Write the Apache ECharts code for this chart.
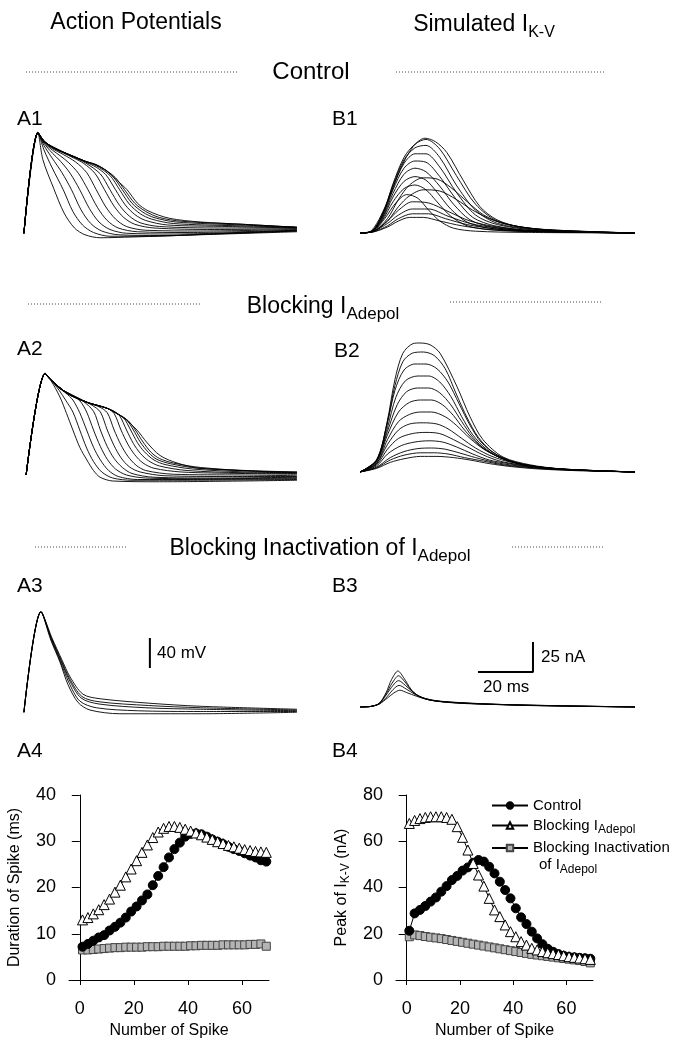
<!DOCTYPE html>
<html><head><meta charset="utf-8">
<script src="https://cdn.jsdelivr.net/npm/echarts@6/dist/echarts.min.js"></script>
<style>html,body{margin:0;padding:0;background:#fff}#c{width:677px;height:1040px}</style>
</head><body><div id="c"></div>
<script>
// ---------- A4 / B4 data ----------
const spikeNumbers = [1,3,5,7,9,11,13,15,17,19,21,23,25,27,29,31,33,35,37,39,41,43,45,47,49,51,53,55,57,59,61,63,65,67,69];
const durControl = [7.2,7.8,8.5,9.2,9.7,10.7,11.5,12.4,13.5,14.8,15.9,17.2,18.5,20.5,22.5,24.4,26.5,28.3,29.7,31.0,31.6,31.7,31.5,31.0,30.4,29.9,29.4,28.8,28.3,27.9,27.4,26.9,26.5,25.9,25.6];
const durBlockAdepol = [13.0,13.5,14.3,15.2,16.3,17.5,19.0,20.5,22.3,24.0,25.8,27.6,29.2,30.8,32.0,32.8,33.2,33.2,33.0,32.6,32.2,31.8,31.4,30.9,30.4,29.9,29.5,29.1,28.8,28.5,28.2,28.0,27.8,27.7,27.6];
const durBlockInact = [6.5,6.5,6.6,6.7,6.8,6.9,7.0,7.0,7.1,7.1,7.1,7.1,7.2,7.2,7.2,7.3,7.3,7.3,7.3,7.3,7.4,7.4,7.5,7.5,7.5,7.5,7.6,7.6,7.6,7.6,7.6,7.7,7.7,7.8,7.3];
const peakControl = [21.3,28.8,30.3,32,33.9,35.7,38.2,40.6,43.2,45,47.3,48.7,50.7,51.9,51.2,49,46.1,42.5,38.9,35.3,31,27.1,24.2,20.9,18,15.5,13.5,12.2,11.2,10.5,10,9.8,9.6,9.4,9.2];
const peakBlockAdepol = [67.7,69,69.8,70.3,70.6,70.6,70.6,70.3,69.5,66.3,61.7,56.2,50.4,45.4,40.6,35.3,30.3,27.4,23.8,20.9,18.7,16.6,15.1,13.7,13,12.3,11.8,11.4,11,10.5,10.1,9.8,9.5,9.2,8.9];
const peakBlockInact = [18.7,19.5,19.2,18.8,18.5,18.2,17.9,17.5,17.1,16.7,16.3,15.9,15.5,15.1,14.7,14.3,13.9,13.5,13.1,12.7,12.3,11.9,11.5,11.1,10.8,10.5,10.2,9.9,9.6,9.3,9.0,8.7,8.4,8.0,7.4];
const spikeTicks = [0,20,40,60];

// ---------- trace data: [time ms, mV] ----------
const tracesA1 = [
 [[0.7,-81],[5.8,53],[7.6,17],[11.5,-21],[15.3,-54],[19.1,-74],[22.9,-83],[28.4,-87],[40,-86],[65,-83],[100,-79]],
 [[0.7,-81],[5.8,53],[8,30],[11,6],[15,-23],[18.5,-52],[22,-70],[26,-80],[32,-85],[45,-85],[70,-82],[100,-78]],
 [[0.7,-81],[5.8,53],[8,36],[11,19],[14.5,0],[18,-23],[21.5,-50],[25,-68],[29,-78],[35,-83],[50,-84],[75,-81],[100,-78]],
 [[0.7,-81],[5.8,53],[8,39],[11,26],[14,15],[17.5,-1],[21,-23],[24.5,-48],[28,-66],[32,-76],[38,-81],[55,-82],[100,-77]],
 [[0.7,-81],[5.8,53],[8,40],[11,30],[14,22],[17,13],[20.5,-1],[24,-23],[27.5,-47],[31,-64],[35,-74],[42,-79],[60,-80],[100,-77]],
 [[0.7,-81],[5.8,53],[8,41],[11,32],[15,24],[19.5,14],[23.5,0],[27,-23],[30.5,-46],[34,-62],[38,-72],[45,-77],[65,-78],[100,-76]],
 [[0.7,-81],[5.8,53],[8,42],[11,33],[15,26],[19,19],[22.5,12],[26.5,-1],[30,-23],[33.5,-45],[37,-60],[41,-69],[48,-74],[70,-76],[100,-75]],
 [[0.7,-81],[5.8,53],[8,42],[11,34],[15,27],[19,20],[23,13],[28.5,-2],[32,-23],[35.5,-44],[39,-58],[43,-67],[50,-72],[72,-74],[100,-74]],
 [[0.7,-81],[5.8,53],[8,42],[11,34],[15,27],[19,21],[23,14],[27,7],[30.5,-3],[34,-23],[37.5,-43],[41,-56],[45,-64],[53,-70],[75,-72],[100,-74]],
 [[0.7,-81],[5.8,53],[8,42],[11,34],[15,27],[19,21],[23,15],[27,9],[32,-4],[35.5,-23],[39,-42],[43,-55],[47,-62],[55,-68],[78,-71],[100,-73]],
 [[0.7,-81],[5.8,53],[8,42],[11,34],[15,27],[19,21],[23,15],[27,10],[30,4],[33,-5],[36.5,-23],[40,-41],[44,-53],[48,-60],[56,-66],[80,-70],[100,-73]],
 [[0.7,-81],[5.8,53],[8,42],[11,34],[15,27],[19,21],[23,15],[27,10],[30.5,3],[34,-7],[37.3,-23],[41,-41],[45,-52],[50,-60],[58,-65],[80,-69],[100,-73]],
 [[0.7,-81],[5.8,54],[7.6,42],[11.5,34],[15.3,27],[19.1,21],[22.9,15],[26.7,11],[30.5,3],[34.4,-10],[38.2,-23],[42,-41],[45.8,-51],[53.5,-61],[64.9,-66],[80.2,-69],[99.3,-73]]
];
const tracesA2 = [
 [[1.5,-82],[8.4,53],[10.5,44],[13.8,22],[16.2,0],[18.5,-22],[21,-45],[23.6,-62],[26,-76],[28.4,-85],[33,-90],[50,-91],[100,-89]],
 [[1.5,-82],[8.4,53],[10.5,45],[13.5,31],[16,17],[18.5,2],[21,-22],[23.5,-46],[26,-64],[29,-78],[33,-86],[40,-89],[60,-89],[100,-88]],
 [[1.5,-82],[8.4,53],[10.5,45],[13.5,34],[16,27],[18.5,18],[21,1],[23.5,-22],[26,-45],[28.5,-62],[31.5,-76],[35,-84],[42,-88],[60,-88],[100,-87]],
 [[1.5,-82],[8.4,53],[10.5,45],[13.5,34],[17,27],[21,17],[23.5,2],[26,-22],[28.5,-44],[31,-61],[34,-74],[38,-82],[45,-86],[65,-87],[100,-86]],
 [[1.5,-82],[8.4,53],[10.5,45],[14,33],[18,25],[22,17],[26,3],[28.5,-22],[31,-44],[33.5,-60],[36.5,-72],[40,-80],[48,-85],[70,-86],[100,-85]],
 [[1.5,-82],[8.4,53],[10.5,45],[14,33],[18,25],[22,18],[25.5,11],[28.5,2],[31,-22],[33.5,-43],[36,-59],[39,-71],[43,-78],[52,-83],[75,-84],[100,-84]],
 [[1.5,-82],[8.4,53],[10.5,45],[16.4,27],[20,20],[24,14],[28,9],[31,1],[33.5,-22],[36,-42],[38.5,-57],[41.5,-69],[45,-76],[55,-81],[80,-82],[100,-83]],
 [[1.5,-82],[8.4,53],[10.5,45],[16.4,27],[23.6,15],[28,10],[31,7],[33.5,0],[36,-22],[38.5,-41],[41,-55],[44,-66],[48,-73],[58,-78],[80,-80],[100,-81]],
 [[1.5,-82],[8.4,53],[10.5,45],[16.4,27],[23.6,15],[30,8],[33,4],[35.5,-3],[38,-22],[40.5,-40],[43,-53],[46,-63],[50,-70],[60,-76],[80,-79],[100,-80]],
 [[1.5,-82],[8.4,53],[10.5,45],[16.4,27],[23.6,15],[30.9,7],[34.5,0],[37,-6],[39.5,-22],[42,-39],[44.5,-51],[48,-62],[52,-68],[62,-74],[82,-78],[100,-79]],
 [[1.5,-82],[8.4,53],[10.5,45],[16.4,27],[23.6,15],[30.9,7],[35.5,-2],[38,-8],[40.5,-22],[43,-38],[46,-52],[49,-61],[54,-67],[64,-73],[85,-77],[100,-79]],
 [[1.5,-82],[8.4,53],[10.5,45],[16.4,27],[23.6,15],[30.9,7],[36.2,-4],[38.7,-10],[41.2,-22],[44,-38],[47,-52],[50,-60],[55,-66],[65,-72],[85,-77],[100,-78]],
 [[1.5,-82],[8.4,54],[10.2,45],[16.4,27],[23.6,15],[30.9,7],[36.7,-5],[41.8,-22],[45.5,-39],[50.2,-56],[56.4,-66],[64.7,-73],[100,-78]]
];
const tracesA3 = [
 [[0.7,-81],[6.9,53],[10.9,18],[14.5,-11],[17.5,-34],[22.2,-57],[28.4,-63],[46.5,-69],[64.7,-73],[100,-77]],
 [[0.7,-81],[6.9,53],[10.8,17],[14.3,-12],[17.3,-36],[21.8,-60],[28,-67],[46,-72],[65,-75],[100,-78]],
 [[0.7,-81],[6.9,53],[10.7,17],[14.2,-13],[17.2,-38],[21.5,-62],[28,-70],[45,-75],[65,-77],[100,-79]],
 [[0.7,-81],[6.9,53],[10.6,16],[14,-14],[17,-41],[21,-66],[27,-75],[42,-79],[65,-80],[100,-80]],
 [[0.7,-81],[6.9,53],[10.5,15],[13.8,-14],[16.7,-44],[20.4,-68],[24.7,-78],[35.6,-83],[64.7,-83],[100,-81]]
];
// ---------- trace data: [time ms, nA] ----------
const tracesB1 = [
 [[0,0],[5,1],[10,5],[14,10],[18,13],[23,13],[29,10],[37,6],[47,3],[60,1.5],[100,0]],
 [[0,0],[5,1],[10,6],[14,12],[19,16],[25,16],[31,12],[39,7],[49,3.5],[62,1.5],[100,0]],
 [[0,0],[5,1.5],[10,8],[14,15],[19,20],[25,20],[32,14],[40,8],[50,4],[63,1.5],[100,0]],
 [[0,0],[5,1.5],[10,10],[14,19],[19,26],[25,25],[32,18],[40,10],[50,5],[63,2],[100,0]],
 [[0,0],[5,2],[9,12],[13,25],[17,32],[21,29],[25,19],[29,10],[34,4],[42,1.5],[60,0.5],[100,0]],
 [[0,0],[5,1.5],[10,10],[14,22],[18,31],[23,36],[29,35],[35,28],[41,19],[48,11],[56,6],[68,2.5],[100,0]],
 [[0,0],[4,1],[8,10],[12,26],[16,37],[20,40],[24,36],[28,26],[33,14],[39,6],[48,2.5],[65,1],[100,0]],
 [[0,0],[5,1.5],[10,12],[14,28],[18,40],[23,46],[28,45],[33,38],[39,26],[45,15],[52,8],[62,4],[75,1.5],[100,0]],
 [[0,0],[4,1],[8,11],[12,30],[16,43],[20,47],[24,44],[28,34],[33,20],[39,9],[47,4],[60,1.5],[100,0]],
 [[0,0],[4,1],[8,12],[12,33],[16,49],[20,54],[24,51],[29,39],[34,24],[40,11],[48,5],[62,2],[100,0]],
 [[0,0],[4,1],[8,13],[12,36],[16,54],[20,60],[24,59],[29,47],[35,28],[41,13],[49,6],[63,2],[100,0]],
 [[0,0],[4,1],[8,14],[12,38],[16,58],[20,66],[24,66],[29,55],[35,34],[42,15],[50,7],[64,2.5],[100,0]],
 [[0,0],[4,1],[8,15],[12,40],[16,61],[20,71],[24,73],[29,63],[35,40],[42,19],[50,8],[64,3],[100,0]],
 [[0,0],[4,1],[8.5,17],[12,41],[16,63],[20,74],[24,78],[29,70],[35,48],[42,24],[50,10],[64,3.5],[100,0]],
 [[0,0],[3.6,1],[9.8,25],[14.5,52.5],[19.3,72],[23.6,79],[27.5,76],[31.6,67],[37.5,44],[43.6,22],[49.8,11],[58.2,5],[70,2.5],[100,0]]
];
const tracesB2 = [
 [[0,0],[6,3],[11,8],[16,11],[22,13],[28,13],[34,12],[40,10],[47,7],[55,4.5],[65,2.5],[80,1],[100,0]],
 [[0,0],[6,3.5],[11,10],[16,14],[22,16],[27,16],[32,15],[38,12],[45,9],[52,6],[60,4],[72,2],[100,0]],
 [[0,0],[6,4],[11,12],[16,17],[21,19.5],[26,20],[31,19],[36,16],[42,12],[49,8],[56,5.5],[66,3],[80,1.5],[100,0]],
 [[0,0],[6,5],[10,15],[15,22],[20,25],[25,26],[30,25],[35,21],[41,15],[47,10],[54,7],[63,4],[75,2],[100,0]],
 [[0,0],[6,6],[10,19],[14,28],[19,32],[24,33],[29,32],[34,27],[39,21],[45,14],[51,9],[58,6],[68,3],[82,1.5],[100,0]],
 [[0,0],[6,7],[10,23],[14,35],[18,40],[23,41],[28,40],[32,36],[37,28],[42,20],[48,13],[55,8],[64,4.5],[76,2],[100,0]],
 [[0,0],[6,7],[10,27],[14,42],[18,48],[22,50],[26,50],[31,46],[35,39],[40,28],[45,19],[51,12],[58,7],[68,3.5],[82,1.5],[100,0]],
 [[0,0],[6,8],[10,31],[14,50],[18,58],[22,60],[26,60],[30,56],[34,47],[38,35],[43,23],[49,14],[56,8],[66,4],[80,1.5],[100,0]],
 [[0,0],[6,9],[10,34],[13.5,56],[17,67],[21,70],[25,70],[29,66],[33,56],[37,42],[41,29],[46,18],[53,10],[62,5],[75,2],[100,0]],
 [[0,0],[6,9],[10,37],[13,62],[16.5,76],[21,80],[25,80],[29,75],[33,63],[37,46],[41,31],[46,19],[52,11],[60,6],[72,2.5],[100,0]],
 [[0,0],[6,10],[9.8,39],[12.7,68],[16,85],[20,90],[24,90],[28,86],[32,75],[36,57],[40,39],[44,25],[50,14],[58,7],[70,3],[100,0]],
 [[0,0],[6,10],[9.8,40],[12.7,72],[15.6,92],[19,99],[23,100],[27,97],[31,86],[35,65],[39,45],[43,29],[48,17],[55,9],[65,4],[80,1.5],[100,0]],
 [[0,0],[6.2,10],[9.8,41],[12.7,77],[15.6,99],[19.3,107],[21.8,107.5],[25.5,106],[29.1,99],[35.3,71],[40,46],[44.7,27],[52,12.5],[61.8,6],[73.8,2.5],[99.3,0]]
];
const tracesB3 = [
 [[0,0],[4,0.5],[7,2.5],[10,7.5],[12.2,11.5],[14.5,14],[17,12],[20.5,9],[24,6.5],[29,4.5],[37,3],[50,2],[66,1],[100,0]],
 [[0,0],[4,0.5],[7,2.5],[10,9],[12,14.5],[14.2,18],[16.8,15],[20,10.5],[23,7.5],[28,5],[35,3.5],[48,2.2],[65,1.2],[100,0]],
 [[0,0],[4,0.5],[7,3],[9.5,10],[12,18],[14,22],[16.5,18],[19.5,12],[22.5,8],[27,5.5],[34,4],[47,2.5],[64,1.3],[100,0]],
 [[0,0],[4,0.5],[7,3],[9.5,11],[11.7,20],[14,26],[16.3,21],[19,13],[22,8.5],[26,5.5],[33,4],[46,2.5],[63,1.5],[100,0]],
 [[0,0],[4,0.5],[7,3],[9.5,12],[11.5,23],[13.8,30],[16,24],[18.5,15],[21,9.5],[25,6],[32,4],[45,2.5],[62,1.5],[100,0]]
];
// scale bars
const SCALE_MV = 40, SCALE_MS = 20, SCALE_NA = 25;

const FF = "'Liberation Sans', Arial, sans-serif";
const chart = echarts.init(document.getElementById('c'), null, {renderer: 'canvas'});

const grids = [
  {left: 22, top: 120, width: 275, height: 120},   // A1
  {left: 360, top: 113, width: 275, height: 120},  // B1
  {left: 22, top: 361, width: 275, height: 120},   // A2
  {left: 360, top: 340, width: 275, height: 132},  // B2
  {left: 22, top: 599, width: 275, height: 120},   // A3
  {left: 360, top: 587, width: 275, height: 120},  // B3
  {left: 69, top: 795, width: 200, height: 185},   // A4
  {left: 396, top: 795, width: 197, height: 185}   // B4
];
const yRanges = [[-90,70],[0,100],[-90,70],[0,110],[-90,70],[0,100]];

const xAxes = [], yAxes = [];
for (let g = 0; g < 6; g++) {
  xAxes.push({type: 'value', gridIndex: g, min: 0, max: 100, show: false});
  yAxes.push({type: 'value', gridIndex: g, min: yRanges[g][0], max: yRanges[g][1], show: false});
}
const axisFont = {fontSize: 18, color: '#000', fontFamily: FF};
const nameFont = {fontSize: 16, color: '#000', fontFamily: FF,
  rich: {s: {fontSize: 12, fontFamily: FF, color: '#000', padding: [8, 0, 0, 0]}}};
function plotX(g) {
  return {type: 'value', gridIndex: g, min: -4, max: 70,
    axisLine: {lineStyle: {color: '#000', width: 1}},
    axisTick: {show: true, length: 5, customValues: spikeTicks, lineStyle: {color: '#000'}},
    axisLabel: Object.assign({customValues: spikeTicks, margin: 20}, axisFont),
    splitLine: {show: false},
    name: 'Number of Spike', nameLocation: 'middle', nameGap: 43, nameTextStyle: nameFont};
}
function plotY(g, max, interval, name, gap) {
  return {type: 'value', gridIndex: g, min: 0, max: max, interval: interval,
    axisLine: {show: true, onZero: true, lineStyle: {color: '#000', width: 1}},
    axisTick: {show: true, length: 8, lineStyle: {color: '#000'}},
    axisLabel: Object.assign({margin: 13}, axisFont),
    splitLine: {show: false},
    name: name, nameLocation: 'middle', nameRotate: 90, nameGap: gap, nameTextStyle: nameFont};
}
xAxes.push(plotX(6)); yAxes.push(plotY(6, 40, 10, 'Duration of Spike (ms)', 46));
xAxes.push(plotX(7)); yAxes.push(plotY(7, 80, 20, 'Peak of I{s|K-V} (nA)', 44));

const series = [];
function addTraces(list, g) {
  list.forEach(function (c) {
    series.push({type: 'line', xAxisIndex: g, yAxisIndex: g, data: c, symbol: 'none', showSymbol: false,
      smooth: 0.3, clip: false, silent: true,
      lineStyle: {color: '#000', width: 0.9}});
  });
}
addTraces(tracesA1, 0); addTraces(tracesB1, 1); addTraces(tracesA2, 2);
addTraces(tracesB2, 3); addTraces(tracesA3, 4); addTraces(tracesB3, 5);

// scale bars (drawn in data units of their panels)
const mvBarT = 46.5, mvBarTop = 18;
series.push({type: 'line', xAxisIndex: 4, yAxisIndex: 4, symbol: 'none', clip: false, silent: true,
  data: [[mvBarT, mvBarTop], [mvBarT, mvBarTop - SCALE_MV]], lineStyle: {color: '#000', width: 2}});
const barT0 = 42.9, barI0 = 29.2;
series.push({type: 'line', xAxisIndex: 5, yAxisIndex: 5, symbol: 'none', clip: false, silent: true,
  data: [[barT0, barI0], [barT0 + SCALE_MS, barI0], [barT0 + SCALE_MS, barI0 + SCALE_NA]],
  lineStyle: {color: '#000', width: 2}});

const names = ['Control', 'Blocking IAdepol', 'Blocking Inactivation of IAdepol'];
const styles = [
  {symbol: 'circle', symbolSize: 9, itemStyle: {color: '#000', borderColor: '#000', borderWidth: 1}},
  {symbol: 'triangle', symbolSize: 10, itemStyle: {color: '#fff', borderColor: '#000', borderWidth: 1}},
  {symbol: 'rect', symbolSize: 8, itemStyle: {color: '#b4b4b4', borderColor: '#444', borderWidth: 1}}
];
const a4 = [durBlockInact, durControl, durBlockAdepol];
const b4 = [peakBlockInact, peakControl, peakBlockAdepol];
const order = [2, 0, 1];
[[6, a4], [7, b4]].forEach(function (p) {
  order.forEach(function (k, j) {
    const vals = p[1][j];
    series.push(Object.assign({type: 'line', name: names[k], xAxisIndex: p[0], yAxisIndex: p[0],
      data: spikeNumbers.map(function (x, i) { return [x, vals[i]]; }),
      showSymbol: true, clip: false, silent: true,
      lineStyle: {color: '#000', width: 1}, z: 3 + j}, styles[k]));
  });
});

function txt(x, y, text, size, extra) {
  return {type: 'text', x: x, y: y, silent: true,
    style: Object.assign({text: text, fontSize: size, fontFamily: FF, fill: '#000',
      align: 'left', verticalAlign: 'top'}, extra || {})};
}
function dots(x1, x2, y) {
  return {type: 'line', silent: true, shape: {x1: x1, y1: y, x2: x2, y2: y},
    style: {stroke: '#444', lineWidth: 1, lineDash: [1, 2]}};
}
const subRich = function (size, pad) {
  return {s: {fontSize: size, fontFamily: FF, fill: '#000', padding: [pad, 0, 0, 0]}};
};

const graphic = [
  txt(136, 23, 'Action Potentials', 23, {align: 'center', verticalAlign: 'middle'}),
  txt(484, 25, 'Simulated I{s|K-V}', 23, {align: 'center', verticalAlign: 'middle', rich: subRich(16, 15)}),
  dots(26, 238, 72), dots(396, 605, 72),
  txt(311, 72, 'Control', 24, {align: 'center', verticalAlign: 'middle'}),
  dots(28, 200, 304), dots(450, 603, 302),
  txt(323, 307, 'Blocking I{s|Adepol}', 23, {align: 'center', verticalAlign: 'middle', rich: subRich(17, 15)}),
  dots(35, 127, 547), dots(512, 605, 547),
  txt(320, 549, 'Blocking Inactivation of I{s|Adepol}', 23, {align: 'center', verticalAlign: 'middle', rich: subRich(17, 15)}),
  txt(17, 109, 'A1', 21), txt(332, 109, 'B1', 21),
  txt(17, 339, 'A2', 21), txt(334, 341, 'B2', 21),
  txt(17, 576, 'A3', 21), txt(332, 576, 'B3', 21),
  txt(17, 741, 'A4', 21), txt(332, 741, 'B4', 21),
  txt(157, 653, SCALE_MV + ' mV', 17, {verticalAlign: 'middle'}),
  txt(541, 657, SCALE_NA + ' nA', 17, {verticalAlign: 'middle'}),
  txt(483, 687, SCALE_MS + ' ms', 17, {verticalAlign: 'middle'}),
  txt(539, 865, 'of I{s|Adepol}', 15, {verticalAlign: 'middle', rich: subRich(12, 9)})
];

chart.setOption({
  animation: false,
  backgroundColor: '#fff',
  grid: grids,
  xAxis: xAxes,
  yAxis: yAxes,
  legend: {
    orient: 'vertical', left: 486, top: 793, itemWidth: 36, itemHeight: 8, itemGap: 5,
    selectedMode: false, data: names,
    textStyle: {fontSize: 15, color: '#000', fontFamily: FF,
      rich: {s: {fontSize: 12, fontFamily: FF, color: '#000', padding: [8, 0, 0, 0]}}},
    formatter: function (n) {
      if (n === 'Blocking IAdepol') return 'Blocking I{s|Adepol}';
      if (n === 'Blocking Inactivation of IAdepol') return 'Blocking Inactivation';
      return n;
    }
  },
  series: series,
  graphic: graphic
});
</script></body></html>
